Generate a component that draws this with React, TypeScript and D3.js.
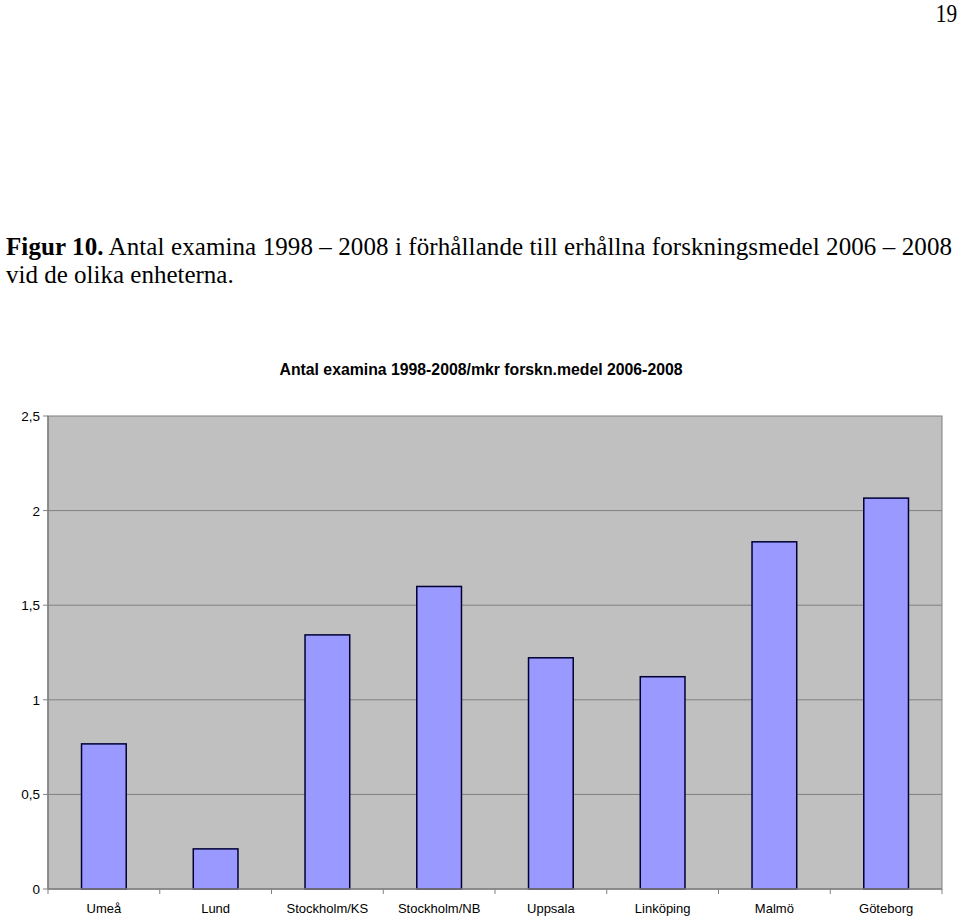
import React from "react";
import * as d3 from "d3";

const categories = ["Umeå", "Lund", "Stockholm/KS", "Stockholm/NB", "Uppsala", "Linköping", "Malmö", "Göteborg"];
const values = [0.767, 0.212, 1.343, 1.599, 1.222, 1.122, 1.835, 2.066];
const yTicks = [0, 0.5, 1, 1.5, 2, 2.5];
const yTickLabels = ["0", "0,5", "1", "1,5", "2", "2,5"];
const chartTitle = "Antal examina 1998-2008/mkr forskn.medel 2006-2008";
const pageNumber = "19";

const W = 959;
const H = 919;
const plot = { left: 48, right: 942, top: 416, bottom: 889 };

export default function App() {
  const x = d3.scaleBand<string>().domain(categories).range([plot.left, plot.right]).paddingInner(0.6).paddingOuter(0.3);
  const xb = d3.scaleBand<string>().domain(categories).range([plot.left, plot.right]);
  const y = d3.scaleLinear().domain([0, 2.5]).range([plot.bottom, plot.top]);
  const serif = "'Liberation Serif', 'Times New Roman', serif";
  const sans = "'Liberation Sans', Arial, sans-serif";
  return (
    <svg width={W} height={H} style={{ position: "absolute", left: 0, top: 0, background: "#fff" }}>
      <text x={957} y={22} textAnchor="end" fontFamily={serif} fontSize={25} transform="translate(957,0) scale(0.85,1) translate(-957,0)">{pageNumber}</text>
      <text x={6} y={255} fontFamily={serif} fontSize={25} textLength={946} lengthAdjust="spacing">
        <tspan fontWeight="bold">Figur 10.</tspan>
        <tspan> Antal examina 1998 – 2008 i förhållande till erhållna forskningsmedel 2006 – 2008</tspan>
      </text>
      <text x={6} y={283} fontFamily={serif} fontSize={25}>vid de olika enheterna.</text>
      <text x={481} y={375} textAnchor="middle" fontFamily={sans} fontWeight="bold" fontSize={15.8}>{chartTitle}</text>
      <rect x={plot.left} y={plot.top} width={plot.right - plot.left} height={plot.bottom - plot.top} fill="#c0c0c0" stroke="#808080" strokeWidth={1} />
      {yTicks.map((t, i) => (
        <g key={t}>
          {t > 0 && t < 2.5 && <line x1={plot.left} x2={plot.right} y1={y(t)} y2={y(t)} stroke="#808080" strokeWidth={1} />}
          <line x1={plot.left - 5} x2={plot.left} y1={y(t)} y2={y(t)} stroke="#808080" />
          <text x={plot.left - 8} y={y(t) + 5} textAnchor="end" fontFamily={sans} fontSize={13.5}>{yTickLabels[i]}</text>
        </g>
      ))}
      {categories.map((c, i) => (
        <g key={c}>
          <rect x={x(c)} y={y(values[i])} width={x.bandwidth()} height={y(0) - y(values[i])} fill="#9999ff" stroke="#000033" strokeWidth={1.5} />
          <text x={(xb(c) as number) + xb.bandwidth() / 2} y={913} textAnchor="middle" fontFamily={sans} fontSize={13}>{c}</text>
        </g>
      ))}
      {categories.map((c) => (
        <line key={"t" + c} x1={xb(c)} x2={xb(c)} y1={plot.bottom} y2={plot.bottom + 5} stroke="#808080" />
      ))}
      <line x1={plot.right} x2={plot.right} y1={plot.bottom} y2={plot.bottom + 5} stroke="#808080" />
      <line x1={plot.left} x2={plot.right} y1={plot.bottom} y2={plot.bottom} stroke="#808080" strokeWidth={1.5} />
      <line x1={plot.left} x2={plot.left} y1={plot.top} y2={plot.bottom} stroke="#808080" strokeWidth={1.5} />
    </svg>
  );
}
